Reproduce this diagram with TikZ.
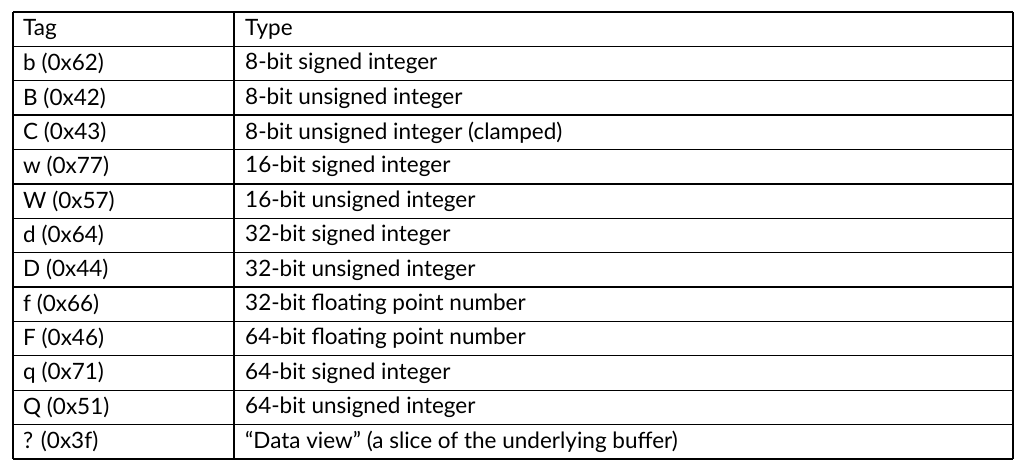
\documentclass[tikz,border=0pt]{standalone}
\usepackage{fontspec}
\setmainfont{Lato}
\usepackage{tikz}

\begin{document}
\begin{tikzpicture}[x=1pt, y=-1pt,
cell/.style={anchor=west, inner sep=0pt, font=\fontsize{22.5}{24}\selectfont},
grid/.style={draw=black, line width=1.3pt}
]
\useasboundingbox (0,0) rectangle (1022,473);
%Grid
\foreach \r in {0,...,13}
  \draw[grid] (13,{12+\r*34.38}) -- (1013,{12+\r*34.38});
\draw[grid] (13,12) -- (13,459);
\draw[grid] (234,12) -- (234,459);
\draw[grid] (1013,12) -- (1013,459);
%Cells
\foreach \tg/\ty [count=\i from 0] in {
  Tag/Type,
  b (0x62)/8-bit signed integer,
  B (0x42)/8-bit unsigned integer,
  C (0x43)/8-bit unsigned integer (clamped),
  w (0x77)/16-bit signed integer,
  W (0x57)/16-bit unsigned integer,
  d (0x64)/32-bit signed integer,
  D (0x44)/32-bit unsigned integer,
  f (0x66)/32-bit floating point number,
  F (0x46)/64-bit floating point number,
  q (0x71)/64-bit signed integer,
  Q (0x51)/64-bit unsigned integer,
  ? (0x3f)/{``Data view'' (a slice of the underlying buffer)}}
{
  \node[cell] (tag\i)  at (23,{29.2+\i*34.38})  {\tg};
  \node[cell] (type\i) at (245,{29.2+\i*34.38}) {\ty};
}
\end{tikzpicture}
\end{document}
